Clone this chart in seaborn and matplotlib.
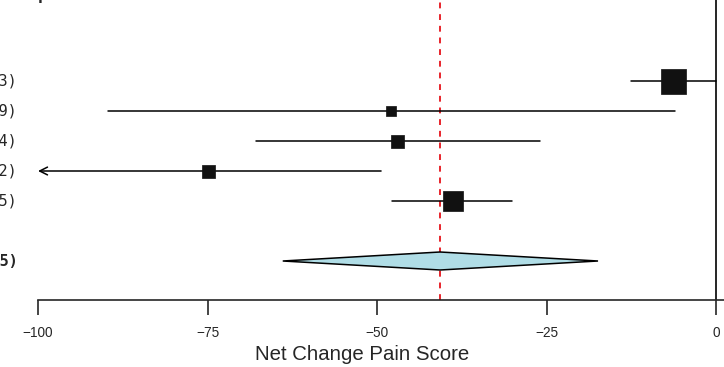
import numpy as np
import matplotlib
matplotlib.use("Agg")
import matplotlib.pyplot as plt
import seaborn as sns

# study rows (label text is cut off at the left edge of the reference)
labels = ["(n=13)", "(n=19)", "(n=14)", "(n=12)", "(n=15)"]
estimates = [-6.3, -48.0, -47.0, -74.8, -38.8]
ci_low = [-12.5, -89.7, -67.8, -110.0, -47.8]
ci_high = [0.0, -6.0, -26.0, -49.4, -30.1]
weights = [25, 10, 13, 13, 20]

summary_label = "(n=75)"
summary_est = -40.7
summary_low = -63.9
summary_high = -17.4

header = "Group"
x_ticks = [-100, -75, -50, -25, 0]
x_label = "Net Change Pain Score"

sns.set_style("white")
plt.rcParams["font.family"] = ["Liberation Sans", "DejaVu Sans"]

fig = plt.figure(figsize=(7.24, 3.67), dpi=100)
ax = fig.add_axes([0, 67 / 367, 1, 300 / 367])

rows = np.arange(1, len(estimates) + 1)
sum_row = len(estimates) + 2

# reference line at the pooled estimate and the zero line
ax.axvline(summary_est, color="#e8242b", ls=(0, (3, 3)), lw=1.4, zorder=1)
ax.axvline(0, color="black", lw=1.2, zorder=1)

for y, lo, hi in zip(rows, ci_low, ci_high):
    if lo < -100:
        ax.annotate("", xy=(-100, y), xytext=(hi, y),
                    arrowprops=dict(arrowstyle="->", lw=1.1, color="black",
                                    mutation_scale=14, shrinkA=0, shrinkB=0))
    else:
        ax.plot([lo, hi], [y, y], color="black", lw=1.1, zorder=2)

sizes = (np.array(weights) * 0.72) ** 2
sns.scatterplot(x=estimates, y=rows, s=sizes, marker="s", color="#111111",
                edgecolor="#111111", linewidth=0.5, ax=ax, zorder=3, legend=False)

# pooled diamond
dx = [summary_low, summary_est, summary_high, summary_est]
dy = [sum_row, sum_row - 0.3, sum_row, sum_row + 0.3]
ax.fill(dx, dy, facecolor="#b0dde6", edgecolor="black", lw=1.1, zorder=3)

# left labels, clipped by the figure edge
for y, lab in zip(rows, labels):
    ax.text(-102.95, y, lab, ha="right", va="center", family="DejaVu Sans Mono",
            fontsize=11, clip_on=False)
ax.text(-102.95, sum_row, summary_label, ha="right", va="center",
        family="DejaVu Sans Mono", fontsize=11, fontweight="bold", clip_on=False)

# header, only the descender of its last letter shows at the top edge
fig.text(-2 / 724, 1.004, header, ha="left", va="baseline",
         family="DejaVu Sans Mono", fontsize=12, fontweight="bold")

ax.set_xlim(-100 - 38 / 6.78, 8 / 6.78)
ax.set_ylim(8.3, -1.7)
ax.set_yticks([])
ax.set_xticks(x_ticks)
ax.set_xticklabels([str(t).replace("-", "\u2212") for t in x_ticks], fontsize=9.8)
ax.tick_params(axis="x", direction="out", length=11, width=1.2, pad=7.5, bottom=True)
for side in ["top", "left", "right"]:
    ax.spines[side].set_visible(False)
ax.spines["bottom"].set_linewidth(1.2)
ax.spines["bottom"].set_bounds(-100, 8 / 6.78)
ax.set_xlabel(x_label, fontsize=14.7, labelpad=4)

fig.savefig("out.png", dpi=100)
